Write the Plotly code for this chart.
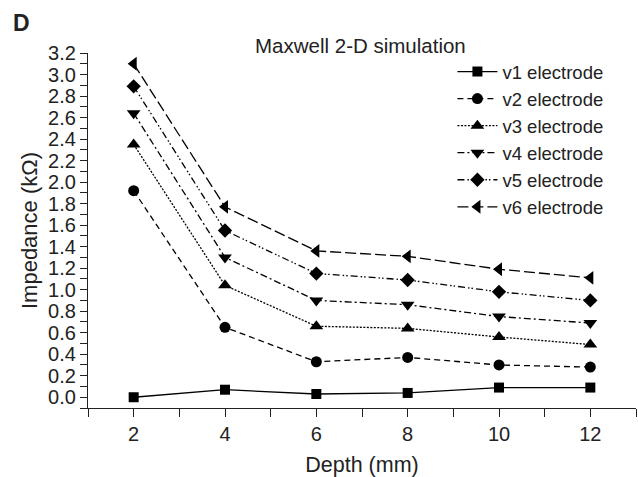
import plotly.graph_objects as go

depth = [2, 4, 6, 8, 10, 12]
v1 = [0.00, 0.07, 0.03, 0.04, 0.09, 0.09]
v2 = [1.92, 0.65, 0.33, 0.37, 0.30, 0.28]
v3 = [2.35, 1.04, 0.66, 0.64, 0.56, 0.49]
v4 = [2.64, 1.30, 0.90, 0.86, 0.75, 0.69]
v5 = [2.89, 1.55, 1.15, 1.09, 0.98, 0.90]
v6 = [3.10, 1.77, 1.36, 1.31, 1.19, 1.11]

names = ["v1 electrode", "v2 electrode", "v3 electrode",
         "v4 electrode", "v5 electrode", "v6 electrode"]
series = [v1, v2, v3, v4, v5, v6]
symbols = ["square", "circle", "triangle-up", "triangle-down", "diamond", "triangle-left"]
dashes = ["solid", "6px,4px", "2px,1.5px", "7px,3px,2px,3px",
          "7px,3px,1.5px,2px,1.5px,3px", "11px,4px"]
sizes = [10, 11, 12, 12, 11, 12]

FONT = "Liberation Sans, Arial, sans-serif"
fig = go.Figure()
for n, s, sym, d, sz in zip(names, series, symbols, dashes, sizes):
    fig.add_trace(go.Scatter(
        x=depth, y=s, name=n, mode="lines+markers",
        line=dict(color="black", width=1.3, dash=d),
        marker=dict(symbol=sym, size=sz, color="black"),
    ))

xt = list(range(1, 14))
fig.update_layout(
    width=638, height=477,
    margin=dict(l=88, r=2, t=53, b=69),
    paper_bgcolor="white", plot_bgcolor="white",
    font=dict(family=FONT, size=20, color="#222"),
    showlegend=True,
    legend=dict(x=0.665, y=1.0, xanchor="left", yanchor="top",
                bgcolor="rgba(0,0,0,0)", font=dict(size=18.5),
                tracegroupgap=0, itemwidth=40),
    xaxis=dict(range=[1, 13], tickvals=xt,
               ticktext=[str(v) if v % 2 == 0 else "" for v in xt],
               ticks="outside", ticklen=8, tickwidth=1.3, tickcolor="#222",
               showline=True, linecolor="#222", linewidth=1.3,
               showgrid=False, zeroline=False,
               title=dict(text="Depth (mm)", standoff=12, font=dict(size=21.5))),
    yaxis=dict(range=[-0.1, 3.2], tick0=0, dtick=0.2, tickformat=".1f",
               ticks="outside", ticklen=7, tickwidth=1.3, tickcolor="#222",
               minor=dict(dtick=0.1, tick0=0, ticks="outside", ticklen=7,
                          tickwidth=1.3, tickcolor="#222"),
               showline=True, linecolor="#222", linewidth=1.3,
               showgrid=False, zeroline=False,
               title=dict(text="Impedance (kΩ)", standoff=4, font=dict(size=22))),
    annotations=[
        dict(text="<b>D</b>", xref="paper", yref="paper", x=-0.14, y=1.085,
             xanchor="left", yanchor="middle", showarrow=False,
             font=dict(size=23, color="#222")),
        dict(text="Maxwell 2-D simulation", xref="paper", yref="paper",
             x=0.497, y=1.02, xanchor="center", yanchor="middle",
             showarrow=False, font=dict(size=20.5, color="#222")),
    ],
)
fig.write_html("out.html", config={"displayModeBar": False},
               post_script="document.body.style.margin='0';")
